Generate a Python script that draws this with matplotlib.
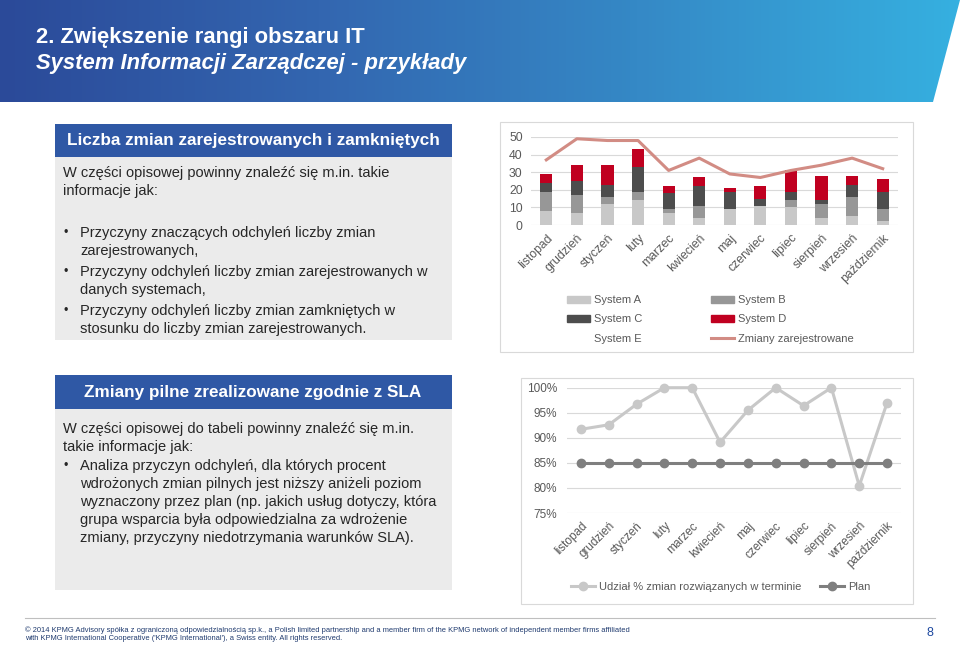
import numpy as np
import matplotlib
matplotlib.use("Agg")
import matplotlib.pyplot as plt
from matplotlib.patches import Rectangle, Polygon, Patch
from matplotlib.lines import Line2D
from matplotlib.colors import LinearSegmentedColormap
from matplotlib.ticker import FuncFormatter

plt.rcParams['font.family'] = ['Liberation Sans', 'DejaVu Sans']

# dane
months = ['listopad', 'grudzień', 'styczeń', 'luty', 'marzec', 'kwiecień',
          'maj', 'czerwiec', 'lipiec', 'sierpień', 'wrzesień', 'październik']
system_a = [8, 7, 12, 14, 7, 4, 9, 11, 10, 4, 5, 2]
system_b = [11, 10, 4, 5, 2, 7, 0, 0, 4, 8, 11, 7]
system_c = [5, 8, 7, 14, 9, 11, 10, 4, 5, 2, 7, 10]
system_d = [5, 9, 11, 10, 4, 5, 2, 7, 12, 14, 5, 7]
system_e = [0, 0, 0, 0, 0, 0, 0, 0, 0, 0, 0, 0]
zarejestrowane = [37, 49, 48, 48, 31, 38, 29, 27, 31, 34, 38, 32]

udzial = [91.7, 92.6, 96.7, 100, 100, 89.1, 95.5, 100, 96.4, 100, 80.4, 97.0]
plan = [85, 85, 85, 85, 85, 85, 85, 85, 85, 85, 85, 85]

W, H = 960, 648
fig = plt.figure(figsize=(9.6, 6.48), dpi=100)
fig.patch.set_facecolor('white')

# tlo w pikselach (y w dol)
bg = fig.add_axes([0, 0, 1, 1])
bg.set_xlim(0, W)
bg.set_ylim(H, 0)
bg.axis('off')

# naglowek z gradientem
cmap = LinearSegmentedColormap.from_list('hdr', ['#2b4a99', '#3366b0', '#3589c6', '#35b0e0'])
grad = np.linspace(0, 1, 256).reshape(1, -1)
im = bg.imshow(grad, cmap=cmap, extent=[0, W, 102, 0], aspect='auto', zorder=1)
clip = Polygon([(0, 0), (W, 0), (933, 102), (0, 102)], closed=True, transform=bg.transData)
im.set_clip_path(clip)
bg.set_xlim(0, W)
bg.set_ylim(H, 0)

bg.text(36, 38, '2. Zwiększenie rangi obszaru IT', color='white', fontsize=15.8,
        fontweight='bold', va='center', ha='left', zorder=3)
bg.text(36, 64, 'System Informacji Zarządczej - przykłady', color='white', fontsize=15.8,
        fontstyle='italic', fontweight='bold', va='center', ha='left', zorder=3)

hdr_blue = '#2f58a5'
box_gray = '#ebebeb'
txt = '#262626'
fs_body = 10.5

# ramka 1
bg.add_patch(Rectangle((55, 124), 397, 33, facecolor=hdr_blue, edgecolor='none', zorder=2))
bg.add_patch(Rectangle((55, 157), 397, 183, facecolor=box_gray, edgecolor='none', zorder=2))
bg.text(253, 141, 'Liczba zmian zarejestrowanych i zamkniętych', color='white', fontsize=12.3,
        fontweight='bold', ha='center', va='center', zorder=3)
lines1 = [(63, 173, 'W części opisowej powinny znaleźć się m.in. takie'),
          (63, 191, 'informacje jak:'),
          (80, 233, 'Przyczyny znaczących odchyleń liczby zmian'),
          (80, 251, 'zarejestrowanych,'),
          (80, 272, 'Przyczyny odchyleń liczby zmian zarejestrowanych w'),
          (80, 290, 'danych systemach,'),
          (80, 311, 'Przyczyny odchyleń liczby zmian zamkniętych w'),
          (80, 329, 'stosunku do liczby zmian zarejestrowanych.')]
for x, y, s in lines1:
    bg.text(x, y, s, color=txt, fontsize=fs_body, ha='left', va='center', zorder=3)
for y in (233, 272, 311):
    bg.text(64, y, '•', color=txt, fontsize=9, ha='left', va='center', zorder=3)

# ramka 2
bg.add_patch(Rectangle((55, 375), 397, 34, facecolor=hdr_blue, edgecolor='none', zorder=2))
bg.add_patch(Rectangle((55, 409), 397, 181, facecolor=box_gray, edgecolor='none', zorder=2))
bg.text(253, 393, 'Zmiany pilne zrealizowane zgodnie z SLA', color='white', fontsize=12.3,
        fontweight='bold', ha='center', va='center', zorder=3)
lines2 = [(63, 429, 'W części opisowej do tabeli powinny znaleźć się m.in.'),
          (63, 447, 'takie informacje jak:'),
          (80, 466, 'Analiza przyczyn odchyleń, dla których procent'),
          (80, 484, 'wdrożonych zmian pilnych jest niższy aniżeli poziom'),
          (80, 502, 'wyznaczony przez plan (np. jakich usług dotyczy, która'),
          (80, 520, 'grupa wsparcia była odpowiedzialna za wdrożenie'),
          (80, 538, 'zmiany, przyczyny niedotrzymania warunków SLA).')]
for x, y, s in lines2:
    bg.text(x, y, s, color=txt, fontsize=fs_body, ha='left', va='center', zorder=3)
bg.text(64, 466, '•', color=txt, fontsize=9, ha='left', va='center', zorder=3)

# ramki wykresow
bg.add_patch(Rectangle((500, 122), 413, 230, facecolor='white', edgecolor='#d9d9d9', lw=0.8, zorder=2))
bg.add_patch(Rectangle((521, 378), 392, 226, facecolor='white', edgecolor='#d9d9d9', lw=0.8, zorder=2))

# stopka
bg.plot([25, 935], [618, 618], color='#bfbfbf', lw=0.8, zorder=2)
bg.text(25, 630, '© 2014 KPMG Advisory spółka z ograniczoną odpowiedzialnością sp.k., a Polish limited '
        'partnership and a member firm of the KPMG network of independent member firms affiliated',
        color='#1f3a6e', fontsize=5.38, ha='left', va='center', zorder=3)
bg.text(25, 639, "with KPMG International Cooperative ('KPMG International'), a Swiss entity. All rights reserved.",
        color='#1f3a6e', fontsize=5.38, ha='left', va='center', zorder=3)
bg.text(933, 633, '8', color='#1e49a0', fontsize=9, ha='right', va='center', zorder=3)

gray_txt = '#595959'
grid_c = '#d9d9d9'
x = np.arange(len(months))

# wykres 1
ax1 = fig.add_axes([531 / W, 1 - 225 / H, 367 / W, 88 / H])
ax1.set_facecolor('none')
c_a, c_b, c_c, c_d, c_e = '#c8c8c8', '#979797', '#4d4d4d', '#c00020', 'white'
bw = 0.4
bottom = np.zeros(len(months))
for vals, col in [(system_a, c_a), (system_b, c_b), (system_c, c_c), (system_d, c_d), (system_e, c_e)]:
    ax1.bar(x, vals, bw, bottom=bottom, color=col, zorder=2)
    bottom += np.array(vals)
ax1.plot(x, zarejestrowane, color='#d28c84', lw=2.2, zorder=3, clip_on=False)
ax1.set_xlim(-0.5, len(months) - 0.5)
ax1.set_ylim(0, 50)
ax1.set_yticks([0, 10, 20, 30, 40, 50])
ax1.yaxis.grid(True, color=grid_c, lw=0.8, zorder=0)
ax1.set_xticks(x)
ax1.set_xticklabels(months, rotation=45, ha='right', rotation_mode='anchor')
ax1.tick_params(length=0, labelsize=8.8, labelcolor=gray_txt, pad=5)
ax1.tick_params(axis='y', pad=6)
for s in ax1.spines.values():
    s.set_visible(False)

h = [Patch(color=c_a), Patch(color=c_c), Patch(color=c_e),
     Patch(color=c_b), Patch(color=c_d), Line2D([], [], color='#d28c84', lw=2.2)]
lab = ['System A', 'System C', 'System E', 'System B', 'System D', 'Zmiany zarejestrowane']
leg1 = fig.legend(h, lab, ncol=2, loc='upper left', bbox_to_anchor=(557 / W, 1 - 285 / H),
                  frameon=False, fontsize=8, handlelength=2.1, handleheight=0.6,
                  labelspacing=0.85, columnspacing=6.2, handletextpad=0.3)
for t in leg1.get_texts():
    t.set_color(gray_txt)

# wykres 2
ax2 = fig.add_axes([567 / W, 1 - 513 / H, 334 / W, 125.3 / H])
ax2.set_facecolor('none')
ax2.plot(x, udzial, color='#c8c8c8', lw=2.2, marker='o', ms=6, zorder=3, clip_on=False)
ax2.plot(x, plan, color='#7f7f7f', lw=2.2, marker='o', ms=6, zorder=3, clip_on=False)
ax2.set_xlim(-0.5, len(months) - 0.5)
ax2.set_ylim(75, 100)
ax2.set_yticks([75, 80, 85, 90, 95, 100])
ax2.yaxis.set_major_formatter(FuncFormatter(lambda v, p: '%d%%' % v))
ax2.yaxis.grid(True, color=grid_c, lw=0.8, zorder=0)
ax2.set_xticks(x)
ax2.set_xticklabels(months, rotation=45, ha='right', rotation_mode='anchor')
ax2.tick_params(length=0, labelsize=8.5, labelcolor=gray_txt, pad=5)
ax2.tick_params(axis='y', pad=7)
for s in ax2.spines.values():
    s.set_visible(False)

h2 = [Line2D([], [], color='#c8c8c8', lw=2.2, marker='o', ms=6),
      Line2D([], [], color='#7f7f7f', lw=2.2, marker='o', ms=6)]
leg2 = fig.legend(h2, ['Udział % zmian rozwiązanych w terminie', 'Plan'], ncol=2, loc='center left',
                  bbox_to_anchor=(561 / W, 1 - 587 / H), frameon=False, fontsize=8,
                  handlelength=2.2, columnspacing=1.7, handletextpad=0.3)
for t in leg2.get_texts():
    t.set_color(gray_txt)

fig.savefig('out.png', dpi=100)
